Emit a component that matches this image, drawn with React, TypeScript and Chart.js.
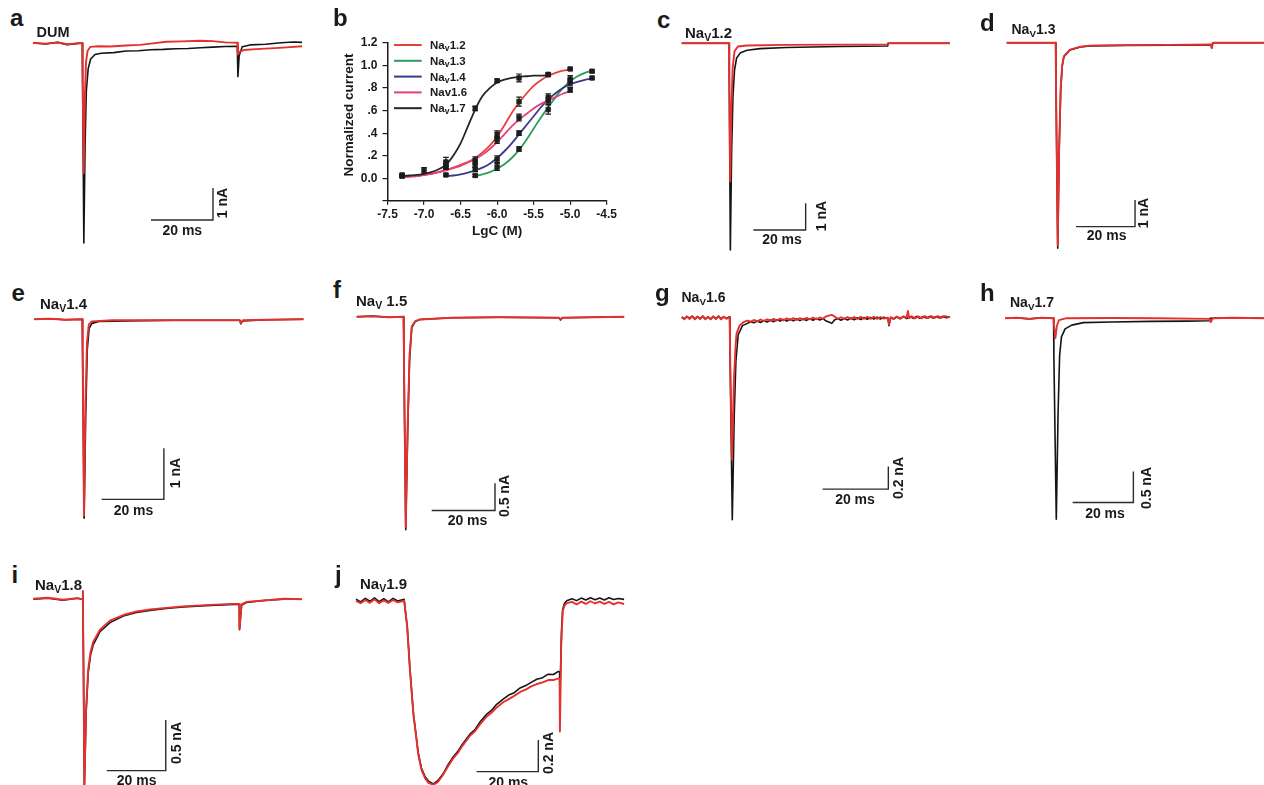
import React, { useEffect, useRef } from 'react';
import { Chart, registerables } from 'chart.js';

Chart.register(...registerables);

const FONT = '"Liberation Sans", Arial, Helvetica, sans-serif';
const INK = '#1a1a1a';
const RED = '#e5302d';
const BLACK = '#141414';
const BAR_INK = '#2b2b2b';

/* ---------------- panel b : concentration-response ---------------- */
const doseTicks = [-7.5, -7.0, -6.5, -6.0, -5.5, -5.0, -4.5];
const currentTicks = [-0.2, 0.0, 0.2, 0.4, 0.6, 0.8, 1.0, 1.2];
const currentTickLabels = ['', '0.0', '.2', '.4', '.6', '.8', '1.0', '1.2'];
const seriesNames = ['Nav1.2', 'Nav1.3', 'Nav1.4', 'Nav1.6', 'Nav1.7'];

const nav12Dose = [-7.3, -6.7, -6.3, -6.0, -5.7, -5.3, -5.0];
const nav12Mean = [0.02, 0.12, 0.16, 0.39, 0.68, 0.92, 0.97];
const nav12Err = [0.01, 0.03, 0.03, 0.03, 0.04, 0.015, 0.01];

const nav13Dose = [-6.3, -6.0, -5.7, -5.3, -5.0, -4.7];
const nav13Mean = [0.025, 0.1, 0.26, 0.61, 0.88, 0.95];
const nav13Err = [0.01, 0.03, 0.02, 0.04, 0.03, 0.01];

const nav14Dose = [-6.7, -6.3, -6.0, -5.7, -5.3, -5.0, -4.7];
const nav14Mean = [0.03, 0.08, 0.17, 0.4, 0.72, 0.85, 0.89];
const nav14Err = [0.01, 0.02, 0.03, 0.02, 0.03, 0.03, 0.01];

const nav16Dose = [-7.3, -6.7, -6.3, -6.0, -5.7, -5.3, -5.0];
const nav16Mean = [0.02, 0.1, 0.13, 0.34, 0.54, 0.685, 0.785];
const nav16Err = [0.01, 0.02, 0.03, 0.03, 0.03, 0.03, 0.02];

const nav17Dose = [-7.3, -7.0, -6.7, -6.3, -6.0, -5.7, -5.3];
const nav17Mean = [0.03, 0.07, 0.145, 0.62, 0.865, 0.89, 0.92];
const nav17Err = [0.01, 0.025, 0.04, 0.02, 0.015, 0.035, 0.01];

const fitGrid = [-7.3, -7.2, -7.1, -7.0, -6.9, -6.8, -6.7, -6.6, -6.5, -6.4, -6.3, -6.2, -6.1, -6.0,
  -5.9, -5.8, -5.7, -5.6, -5.5, -5.4, -5.3, -5.2, -5.1, -5.0, -4.9, -4.8, -4.7];
const nav12Fit = [0.01, 0.015, 0.02, 0.03, 0.04, 0.055, 0.075, 0.095, 0.12, 0.145, 0.18, 0.23, 0.29, 0.37,
  0.47, 0.58, 0.67, 0.75, 0.82, 0.87, 0.91, 0.935, 0.955, 0.965, null, null, null];
const nav13Fit = [null, null, null, null, null, null, null, null, null, null, 0.02, 0.035, 0.055, 0.085,
  0.125, 0.18, 0.25, 0.34, 0.44, 0.54, 0.63, 0.72, 0.8, 0.86, 0.905, 0.935, 0.955];
const nav14Fit = [null, null, null, null, null, null, 0.02, 0.025, 0.035, 0.05, 0.07, 0.095, 0.13, 0.18,
  0.24, 0.31, 0.39, 0.47, 0.55, 0.63, 0.7, 0.755, 0.8, 0.835, 0.855, 0.872, 0.886];
const nav16Fit = [0.01, 0.015, 0.02, 0.03, 0.04, 0.055, 0.07, 0.09, 0.11, 0.14, 0.17, 0.21, 0.26, 0.32,
  0.39, 0.46, 0.52, 0.57, 0.62, 0.66, 0.69, 0.72, 0.75, 0.77, null, null, null];
const nav17Fit = [0.02, 0.025, 0.03, 0.04, 0.055, 0.08, 0.12, 0.2, 0.31, 0.46, 0.61, 0.73, 0.8, 0.85,
  0.875, 0.89, 0.9, 0.905, 0.91, 0.91, 0.915, null, null, null, null, null, null];

/* ---------------- current traces: [time ms, current nA] ---------------- */
const aControl = [[0, 0], [4, -0.03], [8, 0.02], [11, -0.05], [14, -0.02], [15.9, 0], [16.0, -1.2], [16.4, -6.25],
  [16.8, -3.2], [17.2, -1.5], [17.8, -0.8], [18.6, -0.5], [20, -0.36], [22, -0.32], [26, -0.3], [30, -0.25],
  [34, -0.24], [38, -0.21], [42, -0.2], [46, -0.18], [50, -0.17], [54, -0.15], [58, -0.13], [62, -0.11],
  [65.9, -0.1], [66.1, -1.05], [66.5, -0.4], [67.5, -0.12], [70, -0.06], [75, -0.04], [80, 0.01], [84, 0.03], [86.8, 0.02]];
const aDrug = [[0, 0.01], [4, -0.02], [8, 0.02], [11, -0.04], [14, -0.01], [15.9, 0], [16.0, -1.0], [16.35, -4.06],
  [16.7, -1.8], [17.1, -0.6], [17.6, -0.25], [18.5, -0.12], [21, -0.1], [25, -0.11], [30, -0.08], [34.5, -0.06],
  [38, -0.02], [43, 0.04], [48, 0.05], [53.9, 0.07], [58, 0.06], [62, 0.02], [65.9, 0.01], [66.1, -0.36],
  [66.6, -0.28], [68, -0.22], [72, -0.19], [78, -0.16], [83, -0.13], [86.8, -0.1]];

const cControl = [[0, 0], [18.1, 0], [18.2, -1.5], [18.6, -7.74], [19.1, -4.0], [19.6, -2.0], [20.2, -1.0],
  [21, -0.55], [22.5, -0.35], [25, -0.26], [30, -0.2], [40, -0.16], [50, -0.14], [60, -0.12], [70, -0.11],
  [78.8, -0.1], [78.9, 0], [102.6, 0]];
const cDrug = [[0, 0], [18.1, 0], [18.2, -1.2], [18.55, -5.18], [19.0, -2.4], [19.5, -0.9], [20.2, -0.3],
  [21.5, -0.12], [25, -0.08], [40, -0.06], [60, -0.05], [78.8, -0.04], [78.9, 0], [102.6, 0]];

const dControl = [[0, 0], [16.6, 0], [16.7, -1.5], [17.3, -7.7], [17.8, -4.0], [18.3, -1.8], [18.8, -0.9],
  [19.4, -0.52], [21.5, -0.27], [25, -0.16], [28.2, -0.12], [40, -0.1], [55, -0.09], [69.3, -0.08],
  [69.5, -0.2], [69.9, 0], [87.2, 0]];
const dDrug = [[0, 0], [16.6, 0], [16.7, -1.4], [17.3, -7.58], [17.8, -3.8], [18.3, -1.7], [18.8, -0.85],
  [19.4, -0.5], [21.5, -0.26], [25, -0.15], [28.2, -0.11], [40, -0.09], [55, -0.08], [69.3, -0.07],
  [69.5, -0.2], [69.9, 0], [87.2, 0]];

const eControl = [[0, 0], [5, 0.01], [10, -0.01], [15.4, 0], [15.5, -0.6], [16.0, -3.9], [16.5, -1.9],
  [17.0, -0.6], [17.6, -0.18], [18.5, -0.08], [21, -0.04], [30, -0.03], [45, -0.02], [66, -0.02],
  [66.3, -0.09], [66.9, -0.03], [75, -0.01], [86.4, 0]];
const eDrug = [[0, 0], [5, 0.01], [10, -0.01], [15.4, 0], [15.5, -0.6], [15.95, -3.84], [16.4, -1.7],
  [16.9, -0.45], [17.5, -0.1], [18.5, -0.04], [25, -0.02], [45, -0.02], [66, -0.02], [66.3, -0.08],
  [66.9, -0.02], [75, -0.01], [86.4, 0]];

const fControl = [[0, 0], [5, 0.01], [10, -0.01], [14.8, 0], [14.9, -0.6], [15.5, -3.9], [16.1, -2.1],
  [16.7, -0.8], [17.4, -0.2], [18.5, -0.09], [20, -0.05], [30, -0.02], [45, -0.01], [64, -0.02],
  [64.4, -0.06], [65, -0.02], [84.5, 0]];
const fDrug = [[0, 0], [5, 0.01], [10, -0.01], [14.8, 0], [14.9, -0.6], [15.5, -3.85], [16.1, -2.0],
  [16.7, -0.7], [17.4, -0.18], [18.5, -0.08], [20, -0.05], [30, -0.02], [45, -0.01], [64, -0.02],
  [64.4, -0.05], [65, -0.02], [84.5, 0]];

const gControl = [[0, 0.008], [0.8, -0.01], [1.6, 0.012], [2.4, -0.006], [3.2, 0.014], [4, -0.01], [4.8, 0.01],
  [5.6, -0.008], [6.4, 0.015], [7.2, -0.01], [8, 0.008], [8.8, -0.012], [9.6, 0.012], [10.4, -0.008],
  [11.2, 0.014], [12, -0.01], [12.8, 0.01], [13.6, -0.006], [14.6, 0.008], [14.7, -0.3], [15.4, -1.78],
  [16.0, -0.85], [16.5, -0.38], [17.2, -0.15], [18.5, -0.07], [20, -0.05], [21, -0.035], [22, -0.045],
  [23, -0.03], [24, -0.042], [25, -0.025], [26, -0.038], [27, -0.02], [28, -0.035], [29, -0.018], [30, -0.03],
  [31, -0.015], [32, -0.03], [33, -0.012], [34, -0.028], [35, -0.01], [36, -0.026], [37, -0.01], [38, -0.024],
  [39, -0.008], [40, -0.022], [41, -0.006], [42, -0.02], [43, -0.008], [44, -0.03], [45, -0.04], [45.7, -0.05],
  [46.5, -0.02], [47.5, -0.008], [48.5, -0.022], [49.5, -0.005], [50.5, -0.02], [51.5, -0.002], [52.5, -0.018],
  [53.5, 0.0], [54.5, -0.016], [55.5, 0.002], [56.5, -0.014], [57.5, 0.003], [58.5, -0.012], [59.5, 0.004],
  [60.5, -0.012], [61.5, 0.004], [62.8, -0.01], [63.1, -0.07], [63.6, 0.0], [64.5, -0.012], [65.5, 0.006],
  [66.5, -0.01], [67.5, 0.01], [68.5, -0.008], [69.5, 0.01], [70.5, -0.006], [71.5, 0.012], [72.5, -0.006],
  [73.5, 0.01], [74.5, -0.004], [75.5, 0.012], [76.5, -0.004], [77.5, 0.01], [78.5, -0.002], [79.5, 0.012],
  [80.5, 0.0], [81.7, 0.006]];
const gDrug = [[0, 0.004], [0.8, -0.014], [1.6, 0.01], [2.4, -0.012], [3.2, 0.012], [4, -0.014], [4.8, 0.008],
  [5.6, -0.012], [6.4, 0.012], [7.2, -0.014], [8, 0.006], [8.8, -0.015], [9.6, 0.01], [10.4, -0.012],
  [11.2, 0.012], [12, -0.014], [12.8, 0.008], [13.6, -0.01], [14.6, 0.004], [14.7, -0.25], [15.3, -1.25],
  [15.9, -0.55], [16.4, -0.25], [16.7, -0.14], [17.6, -0.07], [18.8, -0.04], [20, -0.025], [21, -0.035],
  [22, -0.02], [23, -0.032], [24, -0.016], [25, -0.03], [26, -0.014], [27, -0.028], [28, -0.01], [29, -0.025],
  [30, -0.008], [31, -0.024], [32, -0.006], [33, -0.022], [34, -0.004], [35, -0.02], [36, -0.004], [37, -0.018],
  [38, -0.002], [39, -0.016], [40, 0.0], [41, -0.014], [42, 0.002], [43, -0.01], [44, 0.012], [45, 0.02],
  [45.7, 0.025], [46.5, 0.01], [47.5, -0.01], [48.5, 0.004], [49.5, -0.012], [50.5, 0.006], [51.5, -0.012],
  [52.5, 0.006], [53.5, -0.01], [54.5, 0.008], [55.5, -0.01], [56.5, 0.008], [57.5, -0.01], [58.5, 0.008],
  [59.5, -0.01], [60.5, 0.006], [61.5, -0.008], [62.8, 0.0], [63.1, -0.06], [63.6, 0.005], [64.5, -0.008],
  [65.5, 0.01], [66.5, -0.006], [67.5, 0.012], [68.4, 0.0], [68.9, 0.06], [69.2, -0.005], [70, 0.012],
  [71, -0.006], [72, 0.012], [73, -0.006], [74, 0.014], [75, -0.004], [76, 0.014], [77, -0.002], [78, 0.014],
  [79, -0.002], [80, 0.014], [81.7, 0.004]];

const hControl = [[0, 0], [4, 0.01], [8, -0.01], [12, 0.01], [16.0, 0], [16.1, -0.6], [16.9, -3.24],
  [17.5, -1.5], [18.0, -0.6], [18.6, -0.3], [19.8, -0.17], [22, -0.11], [25.8, -0.07], [35, -0.06],
  [47.8, -0.05], [60, -0.045], [67.3, -0.04], [67.5, 0], [75, 0.01], [85.3, 0]];
const hDrug = [[0, 0], [4, 0.01], [8, -0.01], [12, 0.01], [16.0, 0], [16.1, -0.1], [16.6, -0.32],
  [17.1, -0.12], [17.8, -0.03], [20, 0], [35, 0.005], [50, 0], [67.3, -0.01], [67.8, -0.06], [68.5, 0],
  [75, 0.01], [85.3, 0]];

const iControl = [[0, 0], [5, 0.01], [10, -0.01], [15, 0.01], [16.6, 0], [16.8, 0.08], [17.0, -0.6],
  [17.3, -1.86], [17.6, -1.5], [17.9, -1.12], [18.6, -0.73], [19.4, -0.55], [20.3, -0.45], [22.6, -0.32],
  [26, -0.23], [30.5, -0.165], [35, -0.13], [39.6, -0.11], [45, -0.09], [50.8, -0.075], [60, -0.06],
  [67.8, -0.05], [69.8, -0.05], [69.9, -0.3], [70.6, -0.06], [72.3, -0.03], [79.1, -0.01], [85, 0], [91, 0]];
const iDrug = [[0, 0.005], [5, 0.015], [10, -0.005], [15, 0.012], [16.6, 0], [16.8, 0.08], [17.0, -0.6],
  [17.3, -1.86], [17.6, -1.48], [17.9, -1.08], [18.6, -0.69], [19.4, -0.52], [20.3, -0.42], [22.6, -0.3],
  [26, -0.21], [30.5, -0.155], [35, -0.12], [39.6, -0.1], [45, -0.085], [50.8, -0.07], [60, -0.055],
  [67.8, -0.045], [69.8, -0.045], [69.9, -0.29], [70.6, -0.05], [72.3, -0.025], [79.1, -0.01], [85, 0.005], [91, 0]];

const jControl = [[0, 0.005], [1.5, -0.012], [3, 0.01], [4.5, -0.008], [6, 0.014], [7.5, -0.01], [9, 0.008],
  [10.5, -0.012], [12, 0.01], [13.5, -0.006], [15.6, 0.004], [16.6, -0.168], [17.5, -0.44], [18.6, -0.715],
  [20.2, -0.967], [21.2, -1.06], [22.4, -1.115], [23.6, -1.145], [25.1, -1.16], [26.5, -1.14], [28.3, -1.095],
  [29.8, -1.04], [31.5, -0.99], [33, -0.955], [34.5, -0.91], [37, -0.845], [38.5, -0.82], [40, -0.775],
  [42.4, -0.72], [44, -0.695], [45.5, -0.66], [47.7, -0.625], [49.5, -0.6], [51.3, -0.585], [53.2, -0.555],
  [55, -0.54], [56.8, -0.52], [58.6, -0.5], [60.5, -0.49], [62.3, -0.468], [64, -0.47], [65.6, -0.45],
  [66.0, -0.455], [66.1, -0.62], [66.6, -0.2], [67, -0.06], [67.6, -0.02], [68.3, -0.005], [70, 0.008],
  [71.5, -0.004], [73, 0.012], [74.5, 0.0], [76, 0.014], [77.5, 0.002], [79, 0.012], [80.5, 0.0], [82, 0.014],
  [83.5, 0.003], [85, 0.01], [86.9, 0.004]];
const jDrug = [[0, -0.005], [1.5, -0.02], [3, 0.0], [4.5, -0.018], [6, 0.004], [7.5, -0.02], [9, -0.002],
  [10.5, -0.018], [12, 0.0], [13.5, -0.015], [15.6, -0.005], [16.6, -0.17], [17.5, -0.445], [18.6, -0.72],
  [20.2, -0.975], [21.2, -1.07], [22.4, -1.125], [23.6, -1.155], [25.1, -1.165], [26.5, -1.15], [28.3, -1.1],
  [29.8, -1.05], [31.5, -1.0], [33, -0.965], [34.5, -0.92], [37, -0.855], [38.5, -0.83], [40, -0.79],
  [42.4, -0.735], [44, -0.71], [45.5, -0.68], [47.7, -0.645], [49.5, -0.625], [51.3, -0.605], [53.2, -0.58],
  [55, -0.565], [56.8, -0.545], [58.6, -0.53], [60.5, -0.52], [62.3, -0.505], [64, -0.505], [65.6, -0.495],
  [66.0, -0.5], [66.1, -0.83], [66.5, -0.3], [67, -0.07], [67.6, -0.035], [68.3, -0.02], [70, -0.012],
  [71.5, -0.028], [73, -0.01], [74.5, -0.025], [76, -0.008], [77.5, -0.022], [79, -0.01], [80.5, -0.025],
  [82, -0.012], [83.5, -0.028], [85, -0.015], [86.9, -0.025]];

const scaleBarMs = 20;
const scaleBarNA = [1, 1, 1, 1, 0.5, 0.2, 0.5, 0.5, 0.2]; // a c d e f g h i j
const panelLetters = ['a', 'c', 'd', 'e', 'f', 'g', 'h', 'i', 'j'];
const panelTitles = [['DUM', '', ''], ['Na', 'V', '1.2'], ['Na', 'V', '1.3'], ['Na', 'V', '1.4'], ['Na', 'V', ' 1.5'],
  ['Na', 'V', '1.6'], ['Na', 'V', '1.7'], ['Na', 'V', '1.8'], ['Na', 'V', '1.9']];
const traceControl = [aControl, cControl, dControl, eControl, fControl, gControl, hControl, iControl, jControl];
const traceDrug = [aDrug, cDrug, dDrug, eDrug, fDrug, gDrug, hDrug, iDrug, jDrug];

/* ---------------- layout (page pixels) ---------------- */
const traceLayout = [
  { box: [25, 31, 285, 219], x0: 33, y0: 43, pxMs: 3.1, pxNA: 32, bar: [58.06, -5.53],
    letter: [10, 26], title: [36.5, 37.3, 14.5], ms: [182.3, 230], na: [221.7, 203.3] },
  { box: [674, 31, 284, 227], x0: 681.7, y0: 43.3, pxMs: 2.615, pxNA: 26.7, bar: [47.4, -6.99],
    letter: [657, 28.5], title: [685, 37.3, 15], ms: [782, 239], na: [821, 215.8] },
  { box: [999, 31, 265, 221], x0: 1006.7, y0: 42.7, pxMs: 2.95, pxNA: 26.7, bar: [43.5, -6.89],
    letter: [980, 31], title: [1011.5, 34.3, 14], ms: [1106.7, 235], na: [1142.5, 213.3] },
  { box: [26, 307, 285, 219], x0: 34.3, y0: 319.3, pxMs: 3.115, pxNA: 51, bar: [41.6, -3.53],
    letter: [11.5, 301.5], title: [40, 308.3, 15], ms: [133.5, 510], na: [175, 472.5] },
  { box: [349, 305, 283, 229], x0: 356.7, y0: 316.7, pxMs: 3.165, pxNA: 54.6, bar: [43.7, -3.55],
    letter: [333, 298.5], title: [356, 306, 15], ms: [467.5, 520], na: [504.2, 495.8] },
  { box: [674, 305, 284, 222], x0: 681.7, y0: 317.7, pxMs: 3.285, pxNA: 113.5, bar: [62.9, -1.51],
    letter: [655, 301.5], title: [681.5, 301.7, 14], ms: [855, 499.2], na: [897.5, 477.5] },
  { box: [997, 306, 267, 221], x0: 1005, y0: 318.3, pxMs: 3.035, pxNA: 62, bar: [42.3, -2.97],
    letter: [980, 301.5], title: [1010, 306.7, 14], ms: [1105, 513], na: [1145.8, 488.3] },
  { box: [25, 587, 285, 198], x0: 33.3, y0: 599.3, pxMs: 2.95, pxNA: 101.4, bar: [44.9, -1.69],
    letter: [11.5, 583], title: [35, 590, 15], ms: [136.7, 780], na: [176.2, 743.3] },
  { box: [348, 588, 284, 197], x0: 356, y0: 600, pxMs: 3.085, pxNA: 158.5, bar: [59.1, -1.083],
    letter: [335, 583], title: [360, 588.3, 15], ms: [508.3, 781.7], na: [547.5, 753.3] },
];

const doseBox = [330, 30, 300, 215];
const doseArea = { left: 387.5, right: 606.7, top: 43, bottom: 200.85 };
const fitColors = ['#e8403c', '#2c9c58', '#3a3a8a', '#e6407a', '#262626'];
const fitOrder = [3, 5, 4, 2, 1];
const legendSub = [true, true, true, false, true];
const LEG = { top: 2, gap: 15.8, x1: 6.5, x2: 34.2, tx: 42.5 };

/* ---------------- plugins ---------------- */
const errorBarPlugin = {
  id: 'errorBars',
  afterDatasetsDraw(chart: any) {
    const { ctx } = chart;
    const xs = chart.scales.x, ys = chart.scales.y;
    ctx.save();
    ctx.strokeStyle = INK;
    ctx.lineWidth = 1.2;
    chart.data.datasets.forEach((ds: any) => {
      if (!ds.errors) return;
      ds.data.forEach((p: any, j: number) => {
        const e = ds.errors[j];
        const px = xs.getPixelForValue(p.x);
        const yt = ys.getPixelForValue(p.y + e);
        const yb = ys.getPixelForValue(p.y - e);
        ctx.beginPath();
        ctx.moveTo(px, yt); ctx.lineTo(px, yb);
        ctx.moveTo(px - 2.8, yt); ctx.lineTo(px + 2.8, yt);
        ctx.moveTo(px - 2.8, yb); ctx.lineTo(px + 2.8, yb);
        ctx.stroke();
      });
    });
    ctx.restore();
  },
};

const legendPlugin = {
  id: 'doseLegend',
  afterDraw(chart: any) {
    const { ctx, chartArea } = chart;
    ctx.save();
    seriesNames.forEach((name, i) => {
      const cy = chartArea.top + LEG.top + i * LEG.gap;
      ctx.strokeStyle = fitColors[i];
      ctx.lineWidth = 2;
      ctx.beginPath();
      ctx.moveTo(chartArea.left + LEG.x1, cy);
      ctx.lineTo(chartArea.left + LEG.x2, cy);
      ctx.stroke();
      ctx.fillStyle = INK;
      ctx.textBaseline = 'alphabetic';
      ctx.textAlign = 'left';
      const base = cy + 4;
      let x = chartArea.left + LEG.tx;
      const big = `bold 11.5px ${FONT}`;
      const small = `bold 8.5px ${FONT}`;
      ctx.font = big;
      if (legendSub[i]) {
        const head = name.slice(0, 2), v = name.slice(2, 3), tail = name.slice(3);
        ctx.fillText(head, x, base); x += ctx.measureText(head).width;
        ctx.font = small; ctx.fillText(v, x, base + 2); x += ctx.measureText(v).width + 0.3;
        ctx.font = big; ctx.fillText(tail, x, base);
      } else {
        ctx.fillText(name, x, base);
      }
    });
    ctx.restore();
  },
};

/* ---------------- chart builders ---------------- */
function makeTraceChart(canvas: HTMLCanvasElement, k: number) {
  const p = traceLayout[k];
  const [L, T, W, H] = p.box;
  const toPts = (arr: number[][]) => arr.map(([x, y]) => ({ x, y }));
  const [bt, bi] = p.bar;
  const na = scaleBarNA[k];
  return new Chart(canvas, {
    type: 'line',
    data: {
      datasets: [
        { label: 'drug', data: toPts(traceDrug[k]), borderColor: RED, borderWidth: 1.9, order: 0 },
        { label: 'control', data: toPts(traceControl[k]), borderColor: BLACK, borderWidth: 1.6, order: 1 },
        {
          label: 'scale', order: 2, borderColor: BAR_INK, borderWidth: 1.4, borderJoinStyle: 'miter',
          data: [{ x: bt - scaleBarMs, y: bi }, { x: bt, y: bi }, { x: bt, y: bi + na }],
        },
      ],
    } as any,
    options: {
      animation: false,
      responsive: false,
      events: [],
      layout: { padding: 0 },
      elements: { point: { radius: 0 }, line: { tension: 0, fill: false, borderJoinStyle: 'round' } },
      plugins: { legend: { display: false }, tooltip: { enabled: false } },
      scales: {
        x: { type: 'linear', display: false, min: (L - p.x0) / p.pxMs, max: (L + W - p.x0) / p.pxMs },
        y: { type: 'linear', display: false, min: (p.y0 - T - H) / p.pxNA, max: (p.y0 - T) / p.pxNA },
      },
    } as any,
  });
}

function makeDoseChart(canvas: HTMLCanvasElement) {
  const [L, T, W, H] = doseBox;
  const fits = [nav12Fit, nav13Fit, nav14Fit, nav16Fit, nav17Fit];
  const doses = [nav12Dose, nav13Dose, nav14Dose, nav16Dose, nav17Dose];
  const means = [nav12Mean, nav13Mean, nav14Mean, nav16Mean, nav17Mean];
  const errs = [nav12Err, nav13Err, nav14Err, nav16Err, nav17Err];
  const datasets: any[] = [];
  fits.forEach((f, i) => {
    datasets.push({
      label: seriesNames[i],
      data: fitGrid.map((x, j) => ({ x, y: f[j] })).filter((pt) => pt.y !== null),
      borderColor: fitColors[i], borderWidth: 1.8, pointRadius: 0,
      cubicInterpolationMode: 'monotone', order: 10 + fitOrder[i],
    });
  });
  doses.forEach((d, i) => {
    datasets.push({
      label: seriesNames[i] + ' mean',
      data: d.map((x, j) => ({ x, y: means[i][j] })),
      errors: errs[i],
      showLine: false, pointStyle: 'rect', pointRadius: 3.2,
      pointBackgroundColor: '#222', pointBorderColor: '#222', pointBorderWidth: 0.8, order: 1,
    });
  });
  return new Chart(canvas, {
    type: 'line',
    data: { datasets },
    options: {
      animation: false,
      responsive: false,
      events: [],
      layout: { padding: { left: 0, bottom: 0, top: doseArea.top - T, right: L + W - doseArea.right } },
      plugins: { legend: { display: false }, tooltip: { enabled: false } },
      scales: {
        x: {
          type: 'linear', min: doseTicks[0], max: doseTicks[doseTicks.length - 1],
          afterBuildTicks: (s: any) => { s.ticks = doseTicks.map((v) => ({ value: v })); },
          afterFit: (s: any) => { s.height = T + H - doseArea.bottom; },
          grid: { display: true, drawOnChartArea: false, drawTicks: true, tickLength: 4, color: INK, lineWidth: 1.2 },
          border: { display: true, color: INK, width: 1.5 },
          ticks: {
            color: INK, padding: 3, maxRotation: 0, autoSkip: false,
            font: { family: FONT, size: 12, weight: 'bold' },
            callback: (v: any) => Number(v).toFixed(1),
          },
          title: {
            display: true, text: 'LgC (M)', color: INK,
            font: { family: FONT, size: 13.5, weight: 'bold' }, padding: { top: 0, bottom: 5.2 },
          },
        },
        y: {
          type: 'linear', min: currentTicks[0], max: currentTicks[currentTicks.length - 1],
          afterBuildTicks: (s: any) => { s.ticks = currentTicks.map((v) => ({ value: v })); },
          afterFit: (s: any) => { s.width = doseArea.left - L; },
          grid: { display: true, drawOnChartArea: false, drawTicks: true, tickLength: 5, color: INK, lineWidth: 1.2 },
          border: { display: true, color: INK, width: 1.5 },
          ticks: {
            color: INK, padding: 5, autoSkip: false,
            font: { family: FONT, size: 12, weight: 'bold' },
            callback: (_v: any, i: number) => currentTickLabels[i],
          },
        },
      },
    } as any,
    plugins: [errorBarPlugin, legendPlugin],
  });
}

/* ---------------- components ---------------- */
function ChartCanvas({ box, make }: { box: number[]; make: (c: HTMLCanvasElement) => Chart }) {
  const ref = useRef<HTMLCanvasElement>(null);
  useEffect(() => {
    const chart = make(ref.current as HTMLCanvasElement);
    return () => chart.destroy();
  }, []);
  return (
    <canvas
      ref={ref}
      width={box[2]}
      height={box[3]}
      style={{ position: 'absolute', left: box[0], top: box[1], width: box[2], height: box[3] }}
    />
  );
}

const textBase: React.CSSProperties = {
  position: 'absolute', lineHeight: 1, fontWeight: 700, whiteSpace: 'nowrap', color: INK, fontFamily: FONT,
};

function Txt({ x, base, size, children }: any) {
  return <div style={{ ...textBase, left: x, top: base - 0.8465 * size, fontSize: size }}>{children}</div>;
}

function CTxt({ cx, cy, size, rot, children }: any) {
  return (
    <div style={{ ...textBase, left: cx, top: cy, fontSize: size,
      transform: `translate(-50%, -50%)${rot ? ' rotate(-90deg)' : ''}` }}>{children}</div>
  );
}

function Title({ parts }: { parts: string[] }) {
  const [main, sub, rest] = parts;
  return (
    <>
      {main}
      {sub ? <span style={{ fontSize: '0.7em', position: 'relative', top: '0.3em' }}>{sub}</span> : null}
      {rest}
    </>
  );
}

export default function App() {
  return (
    <div style={{ position: 'absolute', left: 0, top: 0, width: 1264, height: 785, overflow: 'hidden',
      background: '#ffffff', fontFamily: FONT }}>
      {traceLayout.map((p, k) => (
        <React.Fragment key={panelLetters[k]}>
          <ChartCanvas box={p.box} make={(c) => makeTraceChart(c, k)} />
          <Txt x={p.letter[0]} base={p.letter[1]} size={24}>{panelLetters[k]}</Txt>
          <Txt x={p.title[0]} base={p.title[1]} size={p.title[2]}><Title parts={panelTitles[k]} /></Txt>
          <CTxt cx={p.ms[0]} cy={p.ms[1]} size={14}>{`${scaleBarMs} ms`}</CTxt>
          <CTxt cx={p.na[0]} cy={p.na[1]} size={14} rot>{`${scaleBarNA[k]} nA`}</CTxt>
        </React.Fragment>
      ))}
      <ChartCanvas box={doseBox} make={makeDoseChart} />
      <Txt x={333} base={26} size={24}>b</Txt>
      <CTxt cx={349} cy={115} size={13.5} rot>Normalized current</CTxt>
    </div>
  );
}
